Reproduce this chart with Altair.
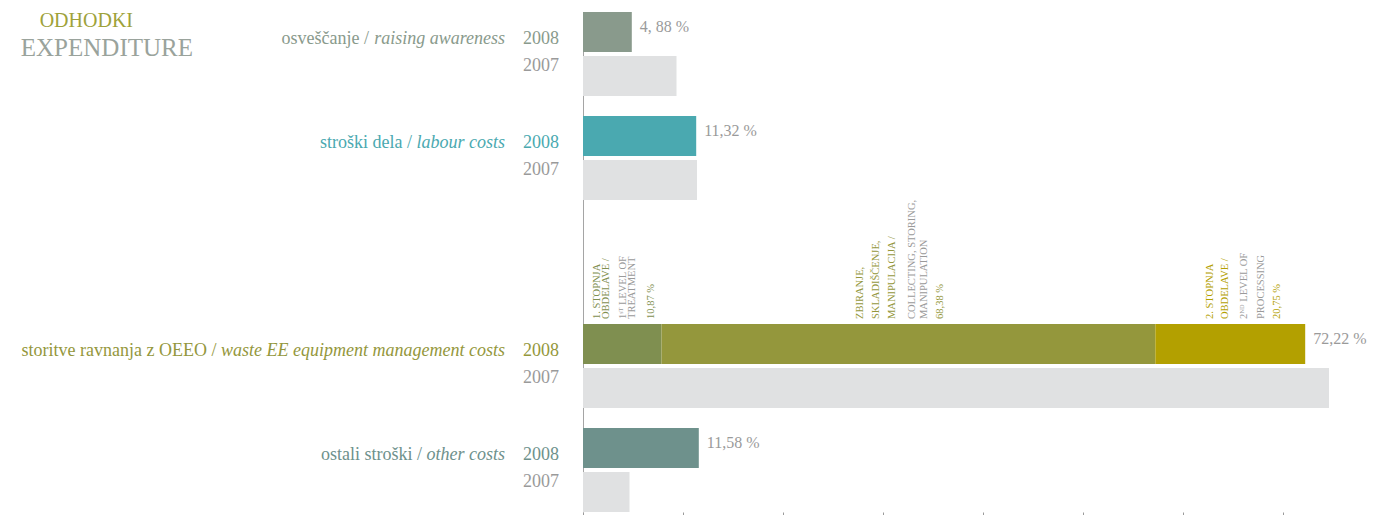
import altair as alt
import pandas as pd

# ---------------- data ----------------
groups = ["osv", "lab", "waste", "oth"]
cat_sl = ["osveščanje /", "stroški dela /", "storitve ravnanja z OEEO /", "ostali stroški /"]
cat_en = ["raising awareness", "labour costs", "waste EE equipment management costs", "other costs"]
share_2008 = [4.88, 11.32, 72.22, 11.58]
share_2007 = [9.35, 11.40, 74.60, 4.65]
value_labels_2008 = ["4, 88 %", "11,32 %", "72,22 %", "11,58 %"]
years = ["2008", "2007"]

waste_segments = ["w1", "w2", "w3"]
waste_shares = [10.87, 68.38, 20.75]  # share (%) of the 2008 waste-management bar
seg_lines = [
    ["1. STOPNJA", "OBDELAVE /", "1ˢᵀ LEVEL OF", "TREATMENT", "10,87 %"],
    ["ZBIRANJE,", "SKLADIŠČENJE,", "MANIPULACIJA /", "COLLECTING, STORING,", "MANIPULATION", "68,38 %"],
    ["2. STOPNJA", "OBDELAVE /", "2ᴺᴰ LEVEL OF", "PROCESSING", "20,75 %"],
]
seg_line_lang = [
    ["sl", "sl", "en", "en", "sl"],
    ["sl", "sl", "sl", "en", "en", "sl"],
    ["sl", "sl", "en", "en", "sl"],
]

# ---------------- style / layout ----------------
FONT = "Liberation Serif"
GREY_TXT = "#9a9a9a"
color_domain = ["osv", "lab", "w1", "w2", "w3", "oth", "y2007", "grey"]
color_range = ["#899a8c", "#4aa9b0", "#7f8f50", "#94973c", "#b3a000", "#6e918c", "#e0e1e2", GREY_TXT]
# horizontal pixel offsets of the rotated text columns, relative to segment middle
seg_col_offsets = [
    [-25, -16, 1, 10, 29],
    [-48, -32, -16, 4, 16, 32],
    [-20, -5, 14, 31, 47],
]

# ---------------- tables ----------------
bar_rows = []
for g, v08, v07 in zip(groups, share_2008, share_2007):
    if g == "waste":
        for i, (s, sh) in enumerate(zip(waste_segments, waste_shares)):
            bar_rows.append({"group": g, "year": "2008", "ckey": s, "value": v08 * sh / 100, "order": i})
    else:
        bar_rows.append({"group": g, "year": "2008", "ckey": g, "value": v08, "order": 0})
    bar_rows.append({"group": g, "year": "2007", "ckey": "y2007", "value": v07, "order": 0})
bar_df = pd.DataFrame(bar_rows)

seg_rows = []
for si, s in enumerate(waste_segments):
    for li, (txt, lang) in enumerate(zip(seg_lines[si], seg_line_lang[si])):
        seg_rows.append({"group": "waste", "seg": s, "order": si,
                         "value": share_2008[2] * waste_shares[si] / 100,
                         "line": li, "text": txt, "ckey": s if lang == "sl" else "grey"})
seg_df = pd.DataFrame(seg_rows)

lab_df = pd.DataFrame({"group": groups, "sl": cat_sl, "en": cat_en, "ckey": groups,
                       "value": share_2008, "vlabel": value_labels_2008})
lab_df.loc[lab_df.group == "waste", "ckey"] = "w2"

# ---------------- scales / axes ----------------
yscale = alt.Scale(domain=["osv", "lab", "sp", "waste", "oth"], paddingInner=0.1923, paddingOuter=0)
yaxis = alt.Axis(labels=False, ticks=False, title=None, domainColor="#a5a5a5", grid=False)
xscale = alt.Scale(domain=[0, 78.4], nice=False, zero=True)
xaxis = alt.Axis(values=[0, 10, 20, 30, 40, 50, 60, 70], labels=False, domain=False, ticks=True,
                 tickSize=3, tickColor="#9a9a9a", grid=False, title=None)
color = alt.Color("ckey:N", scale=alt.Scale(domain=color_domain, range=color_range), legend=None)

bars = alt.Chart(bar_df).transform_stack(
    stack="value", groupby=["group", "year"], as_=["x0", "x1"],
    sort=[alt.SortField("order", order="ascending")]
).mark_bar().encode(
    x=alt.X("x0:Q", scale=xscale, axis=xaxis),
    x2="x1:Q",
    y=alt.Y("group:N", scale=yscale, axis=yaxis),
    yOffset=alt.YOffset("year:N", scale=alt.Scale(domain=years, paddingInner=0.0909, paddingOuter=0)),
    color=color,
)

# rotated segment labels (one layer per text line, centred on each stacked segment)
seg_layers = []
for si, s in enumerate(waste_segments):
    for li in range(len(seg_lines[si])):
        key = seg_df[(seg_df.seg == s) & (seg_df.line == li)].ckey.iloc[0]
        seg_layers.append(
            alt.Chart(seg_df).transform_filter(alt.datum.line == 0).transform_stack(
                stack="value", groupby=["group"], as_=["s0", "s1"],
                sort=[alt.SortField("order", order="ascending")]
            ).transform_calculate(mid="(datum.s0 + datum.s1) / 2")
            .transform_lookup(lookup="seg", from_=alt.LookupData(
                data=seg_df[seg_df.line == li][["seg", "text"]].rename(columns={"text": "t"}),
                key="seg", fields=["t"]))
            .transform_filter(alt.datum.seg == s)
            .mark_text(angle=270, align="left", baseline="middle", dx=5,
                       dy=seg_col_offsets[si][li], fontSize=10.5, font=FONT,
                       color=color_range[color_domain.index(key)])
            .encode(
                x=alt.X("mid:Q", scale=xscale, axis=xaxis),
                y=alt.Y("group:N", scale=yscale, axis=yaxis, bandPosition=0),
                text=alt.Text("t:N"),
            )
        )

# value labels
vlab = alt.Chart(lab_df).mark_text(align="left", baseline="middle", dx=8, fontSize=16,
                                   font=FONT, color=GREY_TXT).encode(
    x=alt.X("value:Q", scale=xscale, axis=xaxis),
    y=alt.Y("group:N", scale=yscale, axis=yaxis, bandPosition=0.18),
    text="vlabel:N",
)

# left labels
LFS = 18
ital_w = {' ': 250, 'a': 500, 'b': 500, 'c': 444, 'd': 500, 'e': 444, 'f': 278, 'g': 500, 'h': 500,
          'i': 278, 'k': 444, 'l': 278, 'm': 722, 'n': 500, 'o': 500, 'p': 500, 'q': 500, 'r': 389,
          's': 389, 't': 278, 'u': 500, 'v': 444, 'w': 667, 'x': 444, 'y': 444, 'E': 611}


def text_w(s):
    return sum(ital_w.get(c, 500) for c in s) / 1000 * LFS


en_lab = alt.Chart(lab_df).mark_text(align="right", baseline="middle", fontSize=LFS, font=FONT,
                                     fontStyle="italic").encode(
    x=alt.value(-78),
    y=alt.Y("group:N", scale=yscale, axis=yaxis, bandPosition=0.32),
    text="en:N",
    color=color,
)
sl_layers = []
for g, en in zip(groups, cat_en):
    sl_layers.append(
        alt.Chart(lab_df).transform_filter(alt.datum.group == g).mark_text(
            align="right", baseline="middle", fontSize=LFS, font=FONT,
            dx=-(text_w(en) + 0.25 * LFS)
        ).encode(
            x=alt.value(-78),
            y=alt.Y("group:N", scale=yscale, axis=yaxis, bandPosition=0.32),
            text="sl:N",
            color=color,
        )
    )

y08 = alt.Chart(lab_df).transform_calculate(yr="'2008'").mark_text(
    align="left", baseline="middle", fontSize=LFS, font=FONT).encode(
    x=alt.value(-60),
    y=alt.Y("group:N", scale=yscale, axis=yaxis, bandPosition=0.32),
    text="yr:N",
    color=color,
)
y07 = alt.Chart(lab_df).transform_calculate(yr="'2007'").mark_text(
    align="left", baseline="middle", fontSize=LFS, font=FONT, color=GREY_TXT).encode(
    x=alt.value(-60),
    y=alt.Y("group:N", scale=yscale, axis=yaxis, bandPosition=0.637),
    text="yr:N",
)

# title
t1 = alt.Chart(pd.DataFrame({"t": ["ODHODKI"]})).mark_text(
    align="right", baseline="alphabetic", fontSize=20, font=FONT, color="#9ea23a").encode(
    x=alt.value(-450), y=alt.value(15), text="t:N")
t2 = alt.Chart(pd.DataFrame({"t": ["EXPENDITURE"]})).mark_text(
    align="right", baseline="alphabetic", fontSize=25, font=FONT, color="#9aa39c").encode(
    x=alt.value(-390), y=alt.value(44), text="t:N")

chart = alt.layer(bars, *seg_layers, vlab, en_lab, *sl_layers, y08, y07, t1, t2).properties(
    width=784, height=500,
    autosize=alt.AutoSizeParams(type="none"),
    padding={"left": 575, "top": 4, "right": 0, "bottom": 3},
).configure_view(stroke=None)

chart.save("out.html", embed_options={"renderer": "svg", "actions": False})
